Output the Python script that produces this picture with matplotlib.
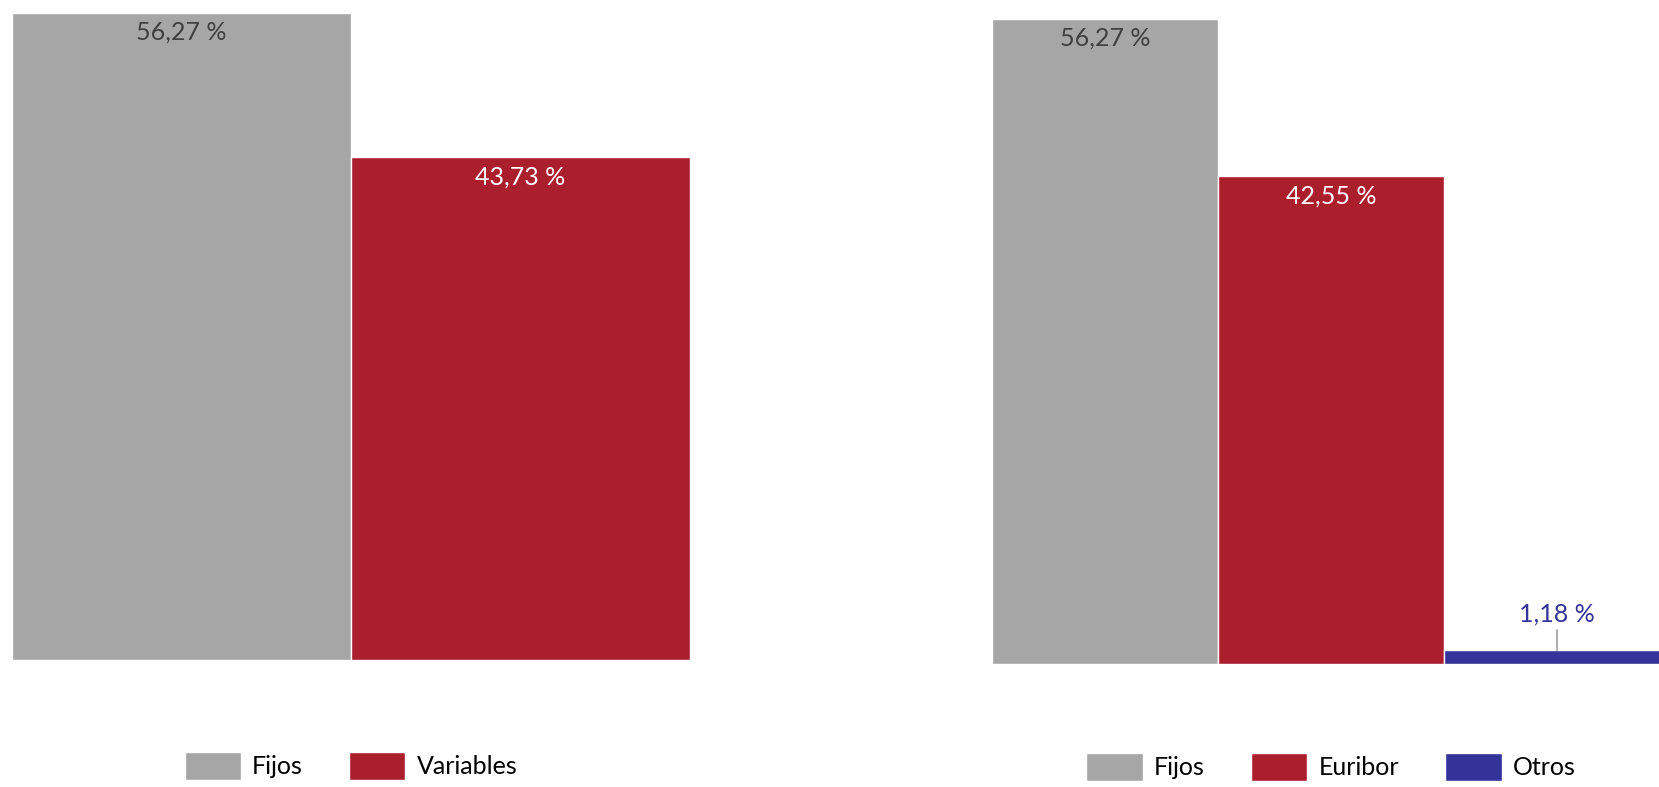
import matplotlib
matplotlib.use("Agg")
import matplotlib.pyplot as plt

plt.rcParams['font.family'] = ['Lato', 'DejaVu Sans']

# datos
izq_cats = ["Fijos", "Variables"]
izq_vals = [56.27, 43.73]
der_cats = ["Fijos", "Euribor", "Otros"]
der_vals = [56.27, 42.55, 1.18]

gris = "#a6a6a6"
rojo = "#ab1f2d"
azul = "#333399"
izq_colores = [gris, rojo]
der_colores = [gris, rojo, azul]
izq_txt = ["#404040", "white"]
der_txt = ["#404040", "white", azul]

W, H = 1659, 787
fig = plt.figure(figsize=(W / 100, H / 100), dpi=100)

ax1 = fig.add_axes([12 / W, (H - 660) / H, 678 / W, 647 / H])
ax2 = fig.add_axes([992 / W, (H - 664) / H, 678 / W, 645 / H])


def etiqueta(v):
    return ("%.2f" % v).replace(".", ",") + " %"


def dibujar(ax, cats, vals, colores, txtcol, umbral=5):
    x = list(range(len(cats)))
    barras = ax.bar(x, vals, width=1, color=colores, edgecolor="white",
                    linewidth=1, label=None)
    for b, v, c in zip(barras, vals, txtcol):
        cx = b.get_x() + b.get_width() / 2
        if v > umbral:
            ax.annotate(etiqueta(v), (cx, v), xytext=(0, -14),
                        textcoords="offset points", ha="center", va="center",
                        fontsize=18, color=c)
        else:
            ax.annotate(etiqueta(v), (cx, v), xytext=(0, 26),
                        textcoords="offset points", ha="center", va="center",
                        fontsize=18, color=c,
                        arrowprops=dict(arrowstyle="-", color="#a0a0a0",
                                        lw=1.2, shrinkA=1, shrinkB=0))
    ax.set_xlim(-0.5, len(cats) - 0.5)
    ax.set_ylim(0, max(vals))
    ax.axis("off")
    return barras


b1 = dibujar(ax1, izq_cats, izq_vals, izq_colores, izq_txt)
b2 = dibujar(ax2, der_cats, der_vals, der_colores, der_txt)

leg_kw = dict(loc="center", ncol=3, frameon=False, fontsize=18,
              handlelength=2.25, handleheight=1.4, handletextpad=0.45,
              columnspacing=1.85, borderaxespad=0)
fig.legend(list(b1), izq_cats, bbox_to_anchor=(351 / W, 1 - 766 / H), **leg_kw)
fig.legend(list(b2), der_cats, bbox_to_anchor=(1331 / W, 1 - 767 / H), **leg_kw)

fig.savefig("out.png", dpi=100)
